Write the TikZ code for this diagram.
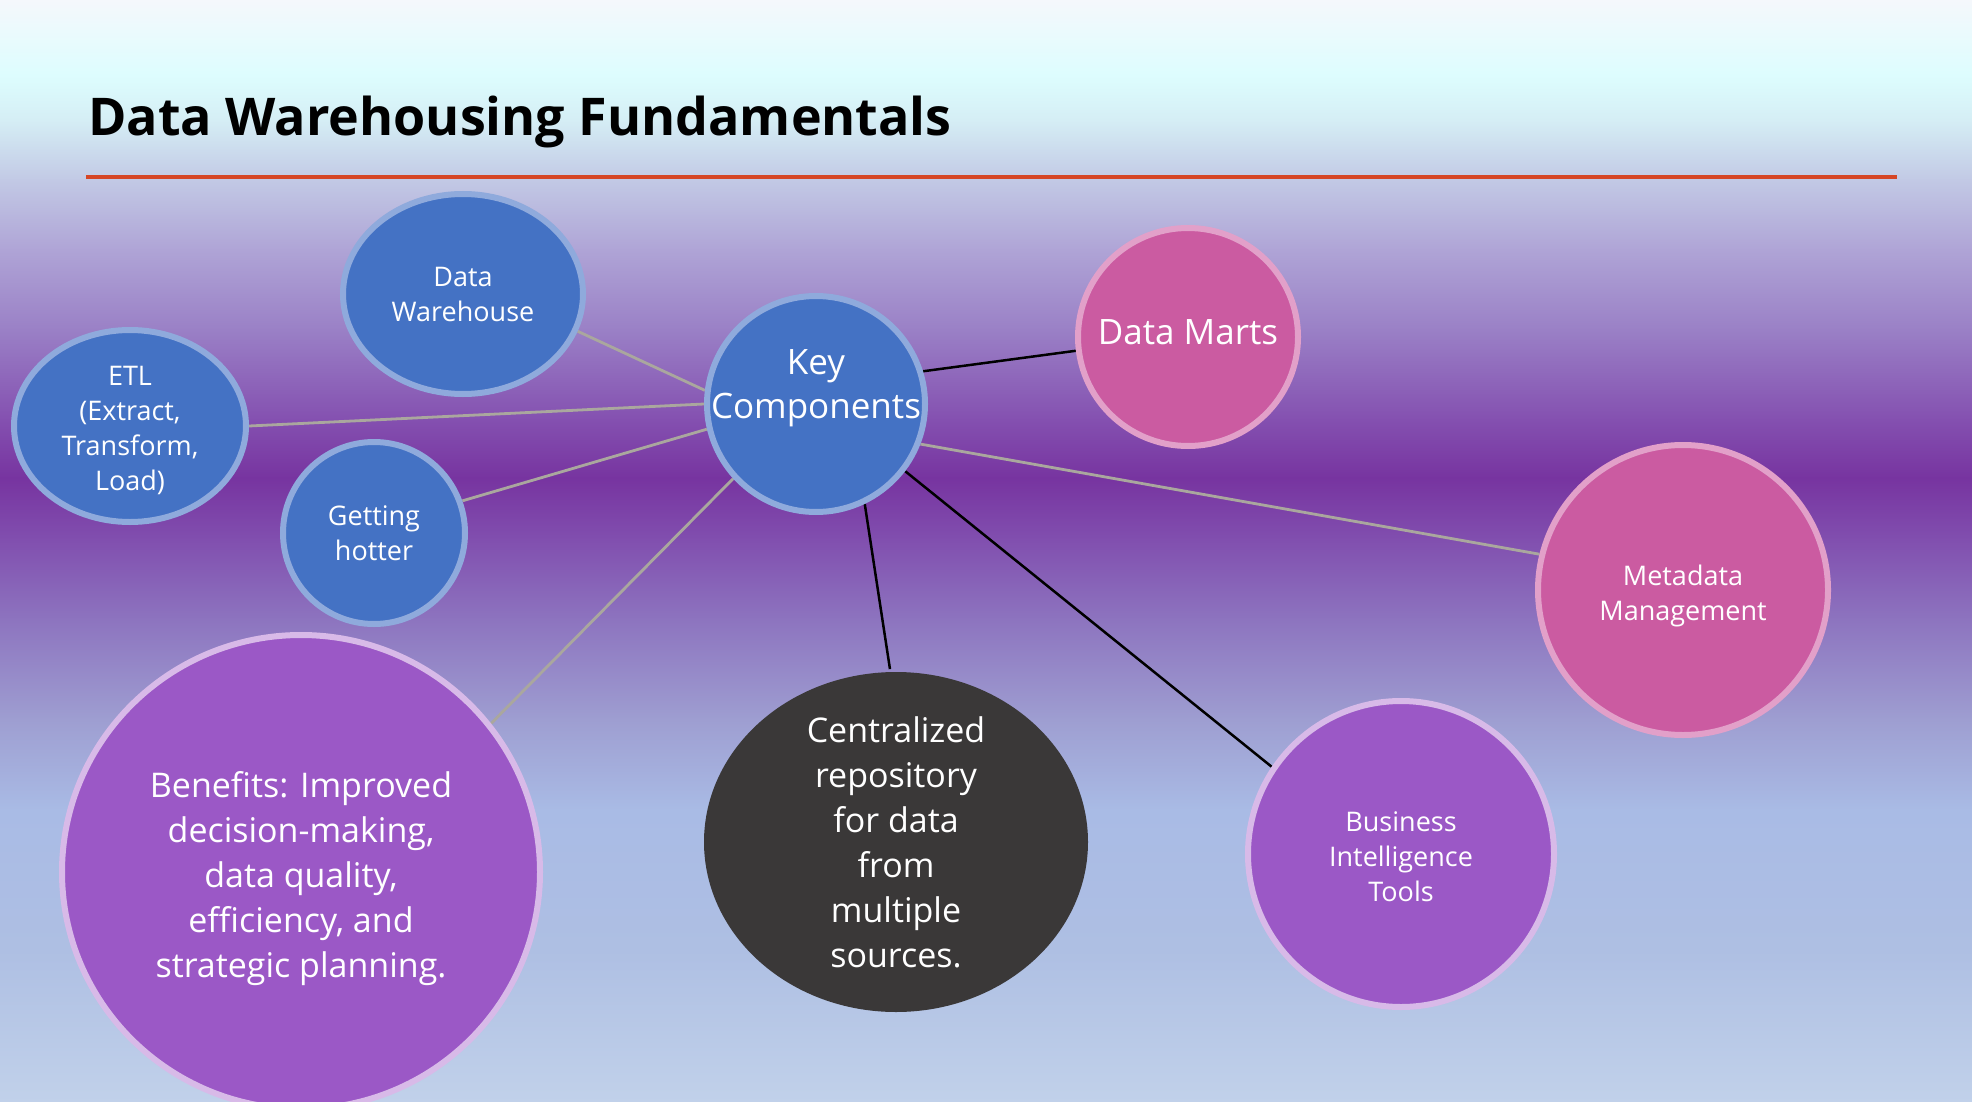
\documentclass[tikz,border=0pt]{standalone}
\usepackage{fontspec}
\setmainfont{Open Sans}
\usetikzlibrary{shapes.geometric, positioning, backgrounds}
\definecolor{bubbleblue}{RGB}{68, 114, 196}
\definecolor{bubblebluerim}{RGB}{143, 170, 220}
\definecolor{bubblepink}{RGB}{203, 91, 161}
\definecolor{bubblepinkrim}{RGB}{226, 160, 201}
\definecolor{bubblepurple}{RGB}{155, 88, 198}
\definecolor{bubblepurplerim}{RGB}{216, 186, 232}
\definecolor{bubbledark}{RGB}{58, 56, 56}
\definecolor{titlered}{RGB}{214, 70, 38}
\definecolor{linkgrey}{RGB}{170, 167, 158}
% slide background stops, top to bottom
\definecolor{bgA}{RGB}{245, 248, 252}
\definecolor{bgB}{RGB}{221, 253, 254}
\definecolor{bgC}{RGB}{213, 238, 245}
\definecolor{bgD}{RGB}{194, 201, 229}
\definecolor{bgE}{RGB}{175, 164, 214}
\definecolor{bgF}{RGB}{154, 128, 198}
\definecolor{bgG}{RGB}{132, 80, 176}
\definecolor{bgH}{RGB}{119, 52, 160}
\definecolor{bgI}{RGB}{129, 79, 175}
\definecolor{bgJ}{RGB}{141, 116, 191}
\definecolor{bgK}{RGB}{158, 158, 209}
\definecolor{bgL}{RGB}{169, 187, 229}
\definecolor{bgM}{RGB}{174, 191, 227}
\definecolor{bgN}{RGB}{193, 209, 234}
% lines of a bubble, lifted by #1 (box kept empty so the bubble stays put)
\newcommand{\liftlines}[2]{\raisebox{#1}[0pt][0pt]{\begin{tabular}{@{}c@{}}#2\end{tabular}}}

\begin{document}
\begin{tikzpicture}[x=1pt, y=-1pt,
  bubble/.style={ellipse, draw, line width=6pt, text=white, align=center, inner sep=-40pt},
  smalltext/.style={font=\fontsize{27}{35}\selectfont},
  bigtext/.style={font=\fontsize{34}{45}\selectfont},
  blue bubble/.style={bubble, fill=bubbleblue, draw=bubblebluerim},
  pink bubble/.style={bubble, fill=bubblepink, draw=bubblepinkrim},
  purple bubble/.style={bubble, fill=bubblepurple, draw=bubblepurplerim},
  link/.style={linkgrey, line width=2.8pt},
  strong link/.style={black, line width=2.5pt}]
  \useasboundingbox (0,0) rectangle (1972,1102);
  % Background
  \begin{pgfonlayer}{background}
    \foreach \ya/\yb/\ca/\cb in {0/75/bgA/bgB, 75/120/bgB/bgC, 120/180/bgC/bgD,
        180/250/bgD/bgE, 250/330/bgE/bgF, 330/420/bgF/bgG, 420/478/bgG/bgH,
        478/540/bgH/bgI, 540/620/bgI/bgJ, 620/720/bgJ/bgK, 720/810/bgK/bgL,
        810/950/bgL/bgM, 950/1102/bgM/bgN}
      \shade[top color=\ca, bottom color=\cb] (-1,\ya-0.5) rectangle (1973,\yb+0.5);
  \end{pgfonlayer}
  % Title
  \node[anchor=base west, inner sep=0pt, font=\fontsize{52}{60}\selectfont\bfseries] (title) at (88,136) {Data Warehousing Fundamentals};
  \draw[titlered, line width=4.5pt] (86,177) -- (1897,177);
  % Bubbles
  \node[blue bubble, smalltext, minimum width=240pt, minimum height=200pt] (dw) at (463,294) {Data\\Warehouse};
  \node[blue bubble, smalltext, minimum width=232pt, minimum height=192pt] (etl) at (130,426)
    {\liftlines{-11.5pt}{ETL\\(Extract,\\Transform,\\Load)}};
  \node[blue bubble, smalltext, minimum width=182pt, minimum height=182pt] (hot) at (374,533) {Getting\\hotter};
  \node[blue bubble, font=\fontsize{35}{44}\selectfont, minimum width=218pt, minimum height=216pt] (kc) at (816,404)
    {\liftlines{10pt}{Key\\Components}};
  \node[pink bubble, font=\fontsize{35}{44}\selectfont, minimum width=220pt, minimum height=218pt] (marts) at (1188,337)
    {\liftlines{-5pt}{Data Marts}};
  \node[pink bubble, smalltext, minimum width=290pt, minimum height=290pt] (meta) at (1683,590)
    {\liftlines{-12.5pt}{Metadata\\Management}};
  \node[purple bubble, smalltext, minimum width=306pt, minimum height=306pt] (bi) at (1401,854)
    {\liftlines{-11.5pt}{Business\\Intelligence\\Tools}};
  \node[bubble, draw=none, fill=bubbledark, bigtext, minimum width=384pt, minimum height=340pt] (repo) at (896,842)
    {Centralized\\repository\\for data\\from\\multiple\\sources.};
  \node[purple bubble, bigtext, minimum width=478pt, minimum height=474pt] (benefits) at (301,872)
    {\liftlines{-13pt}{Benefits: Improved\\decision-making,\\data quality,\\efficiency, and\\strategic planning.}};
  % Links
  \begin{scope}[on background layer]
    \draw[link] (kc.173) -- (dw.-18);
    \draw[link] (kc.180) -- (etl.0);
    \draw[link] (kc.193) -- (hot.20);
    \draw[link] (kc.222) -- (benefits.38);
    \draw[strong link] (kc.17) -- (marts.187);
    \draw[strong link] (kc.-64) -- (repo.92);
    \draw[strong link] (kc.-37) -- (bi.146);
    \draw[link] (kc.-21) -- (meta.166);
  \end{scope}
\end{tikzpicture}
\end{document}
